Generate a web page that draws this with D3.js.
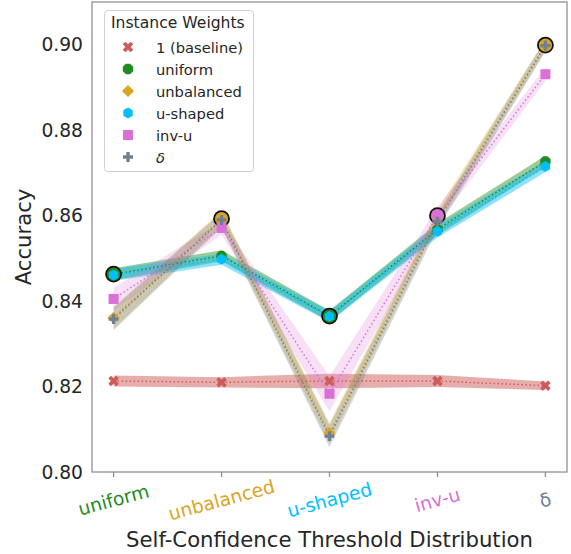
<!DOCTYPE html>
<html>
<head>
<meta charset="utf-8">
<style>
    body { margin: 0; background: #fff; }
    svg { font-family: 'DejaVu Sans', sans-serif; }
    .axis-label { font-size: 21.2px; fill: #262626; }
    .ytick { font-size: 18.7px; fill: #262626; }
    .xtick { font-size: 18.7px; }
    .legend text { font-size: 14.7px; fill: #262626; }
    .legend .title { font-size: 15.6px; }
</style>
</head>
<body>
<svg width="571" height="554"></svg>
<script src="https://d3js.org/d3.v7.min.js"></script>
<script>
    // categories on the x axis (threshold distributions)
    let categories = ["uniform", "unbalanced", "u-shaped", "inv-u", "δ"]
    let seriesNames = ["1 (baseline)", "uniform", "unbalanced", "u-shaped", "inv-u", "δ"]

    // mean accuracy per series, in category order
    let baseline   = [0.8213, 0.8210, 0.8213, 0.8213, 0.8202]
    let uniform    = [0.8463, 0.8506, 0.8365, 0.8568, 0.8727]
    let unbalanced = [0.8361, 0.8593, 0.8091, 0.8595, 0.8999]
    let ushaped    = [0.8461, 0.8498, 0.8364, 0.8563, 0.8715]
    let invu       = [0.8405, 0.8571, 0.8183, 0.8600, 0.8931]
    let delta      = [0.8358, 0.8590, 0.8084, 0.8586, 0.8998]

    // half width of the confidence band
    let baselineCI   = [0.0013, 0.0012, 0.0017, 0.0014, 0.0010]
    let uniformCI    = [0.0014, 0.0013, 0.0013, 0.0014, 0.0013]
    let unbalancedCI = [0.0026, 0.0018, 0.0024, 0.0018, 0.0014]
    let ushapedCI    = [0.0014, 0.0013, 0.0013, 0.0014, 0.0013]
    let invuCI       = [0.0026, 0.0016, 0.0041, 0.0020, 0.0016]
    let deltaCI      = [0.0026, 0.0018, 0.0026, 0.0018, 0.0014]

    let yTicks = [0.80, 0.82, 0.84, 0.86, 0.88, 0.90]

    let means = [baseline, uniform, unbalanced, ushaped, invu, delta]
    let cis = [baselineCI, uniformCI, unbalancedCI, ushapedCI, invuCI, deltaCI]

    let colors = ["#cd5c5c", "#228b22", "#daa520", "#00bfff", "#da70d6", "#708090"]
    let bandAlpha = [0.5, 0.45, 0.3, 0.45, 0.22, 0.3]
    let shapes = ["x", "oct", "diamond", "hex", "square", "plus"]

    let series = seriesNames.map((name, i) => ({
        name: name,
        color: colors[i],
        alpha: bandAlpha[i],
        shape: shapes[i],
        values: categories.map((c, j) => ({ cat: j, v: means[i][j], ci: cis[i][j] }))
    }))

    let svg = d3.select("svg")
    let margin = { top: 2, right: 4, bottom: 82, left: 92 }
    let W = 571, H = 554

    let x = d3.scaleLinear()
        .domain([-0.2, 4.2])
        .range([margin.left, W - margin.right])

    let y = d3.scaleLinear()
        .domain([0.80, 0.91])
        .range([H - margin.bottom, margin.top])

    // marker paths
    function polygon(n, r, rot) {
        let pts = d3.range(n).map(k => {
            let a = rot + k * 2 * Math.PI / n
            return [r * Math.cos(a), r * Math.sin(a)]
        })
        return "M" + pts.map(p => p.join(",")).join("L") + "Z"
    }
    function markerPath(shape) {
        if (shape == "x") return d3.symbol(d3.symbolCross, 70)()
        if (shape == "plus") return d3.symbol(d3.symbolCross, 55)()
        if (shape == "square") return d3.symbol(d3.symbolSquare, 100)()
        if (shape == "diamond") return d3.symbol(d3.symbolSquare, 74)()
        if (shape == "oct") return polygon(8, 5.6, Math.PI / 8)
        if (shape == "hex") return polygon(6, 5.4, Math.PI / 6)
    }
    function markerRot(shape) {
        return (shape == "x" || shape == "diamond") ? 45 : 0
    }

    // spines
    let frame = svg.append("g")
    frame.append("rect")
        .attr("x", x.range()[0])
        .attr("y", y.range()[1])
        .attr("width", x.range()[1] - x.range()[0])
        .attr("height", y.range()[0] - y.range()[1])
        .attr("fill", "none")
        .attr("stroke", "#8c8c8c")
        .attr("stroke-width", 1.25)

    // x ticks
    frame.selectAll(".xt")
        .data(categories)
        .join("line")
        .attr("x1", (d, i) => x(i))
        .attr("x2", (d, i) => x(i))
        .attr("y1", y(0.80))
        .attr("y2", y(0.80) + 5)
        .attr("stroke", "#8c8c8c")
        .attr("stroke-width", 1.25)

    frame.selectAll(".xtick")
        .data(categories)
        .join("text")
        .attr("class", "xtick")
        .attr("transform", (d, i) => `translate(${x(i)}, ${y(0.80) + 28}) rotate(-15)`)
        .attr("text-anchor", "middle")
        .attr("dominant-baseline", "central")
        .attr("fill", (d, i) => colors[i + 1])
        .text(d => d)

    frame.selectAll(".ytick")
        .data(yTicks)
        .join("text")
        .attr("class", "ytick")
        .attr("x", margin.left - 9)
        .attr("y", d => y(d))
        .attr("text-anchor", "end")
        .attr("dominant-baseline", "central")
        .text(d => d3.format(".2f")(d))

    svg.append("text")
        .attr("class", "axis-label")
        .attr("transform", `translate(31, ${(y.range()[0] + y.range()[1]) / 2}) rotate(-90)`)
        .attr("text-anchor", "middle")
        .text("Accuracy")

    svg.append("text")
        .attr("class", "axis-label")
        .attr("x", (x.range()[0] + x.range()[1]) / 2)
        .attr("y", 547)
        .attr("text-anchor", "middle")
        .text("Self-Confidence Threshold Distribution")

    let plot = svg.append("g")

    let area = d3.area()
        .x(d => x(d.cat))
        .y0(d => y(d.v - d.ci))
        .y1(d => y(d.v + d.ci))

    let line = d3.line()
        .x(d => x(d.cat))
        .y(d => y(d.v))

    plot.selectAll(".band")
        .data(series)
        .join("path")
        .attr("d", d => area(d.values))
        .attr("fill", d => d.color)
        .attr("fill-opacity", d => d.alpha)

    plot.selectAll(".ln")
        .data(series)
        .join("path")
        .attr("d", d => line(d.values))
        .attr("fill", "none")
        .attr("stroke", d => d.color)
        .attr("stroke-width", 1.5)
        .attr("stroke-dasharray", "1.5,2.5")

    // best series per category gets a black ring
    let best = categories.map((c, j) => {
        let top = d3.greatestIndex(series, s => s.values[j].v)
        return { cat: j, v: series[top].values[j].v, color: series[top].color }
    })
    plot.selectAll(".best")
        .data(best)
        .join("circle")
        .attr("cx", d => x(d.cat))
        .attr("cy", d => y(d.v))
        .attr("r", 7.5)
        .attr("fill", d => d.color)
        .attr("stroke", "#111")
        .attr("stroke-width", 1.8)

    series.forEach(s => {
        plot.append("g")
            .selectAll("path")
            .data(s.values)
            .join("path")
            .attr("d", markerPath(s.shape))
            .attr("transform", d => `translate(${x(d.cat)}, ${y(d.v)}) rotate(${markerRot(s.shape)})`)
            .attr("fill", s.color)
    })

    // legend
    let legend = svg.append("g").attr("class", "legend")
    legend.append("rect")
        .attr("x", 104.5)
        .attr("y", 10.5)
        .attr("width", 149)
        .attr("height", 161)
        .attr("rx", 3)
        .attr("fill", "#fff")
        .attr("fill-opacity", 0.85)
        .attr("stroke", "#d0d0d0")
    legend.append("text")
        .attr("class", "title")
        .attr("x", 111)
        .attr("y", 22.5)
        .attr("dominant-baseline", "central")
        .text("Instance Weights")
    let items = legend.selectAll(".item")
        .data(series)
        .join("g")
        .attr("transform", (d, i) => `translate(0, ${47 + i * 22})`)
    items.append("path")
        .attr("d", d => markerPath(d.shape))
        .attr("transform", d => `translate(128, 0) rotate(${markerRot(d.shape)})`)
        .attr("fill", d => d.color)
    items.append("text")
        .attr("x", 156)
        .attr("y", 0)
        .attr("dominant-baseline", "central")
        .style("font-style", d => d.name == "δ" ? "italic" : "normal")
        .text(d => d.name)
</script>
</body>
</html>
